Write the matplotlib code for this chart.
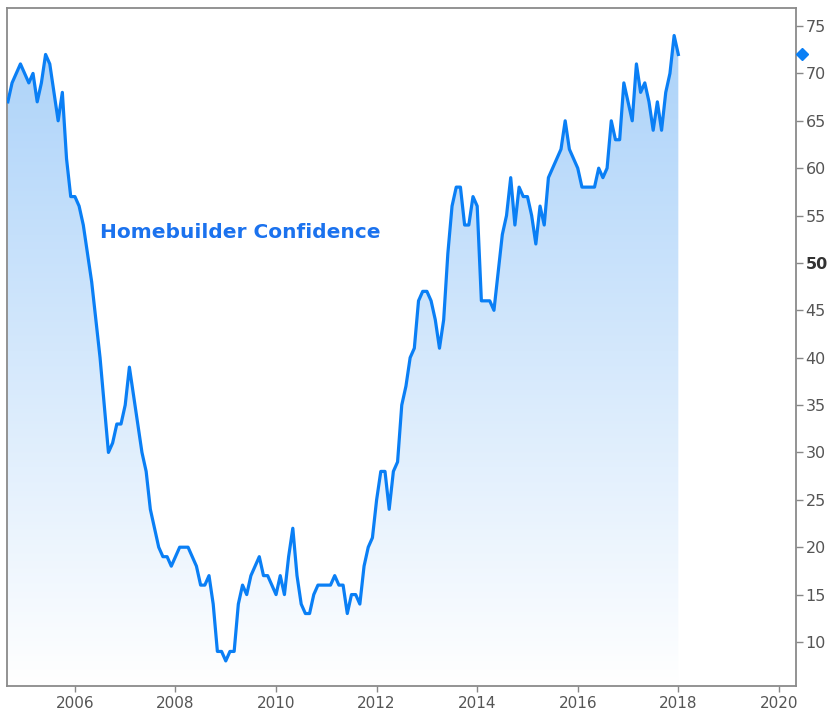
import numpy as np
import matplotlib.pyplot as plt
from matplotlib.colors import LinearSegmentedColormap
from matplotlib.path import Path
from matplotlib.patches import PathPatch
import matplotlib.transforms as mtransforms

# NAHB housing market index, monthly from Sep 2004 to Jan 2018
start_year = 2004
start_month = 9
hmi = [
    67, 69, 70, 71,                                  # 2004 (Sep-Dec)
    70, 69, 70, 67, 69, 72, 71, 68, 65, 68, 61, 57,  # 2005
    57, 56, 54, 51, 48, 44, 40, 35, 30, 31, 33, 33,  # 2006
    35, 39, 36, 33, 30, 28, 24, 22, 20, 19, 19, 18,  # 2007
    19, 20, 20, 20, 19, 18, 16, 16, 17, 14, 9, 9,    # 2008
    8, 9, 9, 14, 16, 15, 17, 18, 19, 17, 17, 16,     # 2009
    15, 17, 15, 19, 22, 17, 14, 13, 13, 15, 16, 16,  # 2010
    16, 16, 17, 16, 16, 13, 15, 15, 14, 18, 20, 21,  # 2011
    25, 28, 28, 24, 28, 29, 35, 37, 40, 41, 46, 47,  # 2012
    47, 46, 44, 41, 44, 51, 56, 58, 58, 54, 54, 57,  # 2013
    56, 46, 46, 46, 45, 49, 53, 55, 59, 54, 58, 57,  # 2014
    57, 55, 52, 56, 54, 59, 60, 61, 62, 65, 62, 61,  # 2015
    60, 58, 58, 58, 58, 60, 59, 60, 65, 63, 63, 69,  # 2016
    67, 65, 71, 68, 69, 67, 64, 67, 64, 68, 70, 74,  # 2017
    72,                                              # 2018 (Jan)
]
year_ticks = [2006, 2008, 2010, 2012, 2014, 2016, 2018, 2020]
value_ticks = [10, 15, 20, 25, 30, 35, 40, 45, 50, 55, 60, 65, 70, 75]
series_label = 'Homebuilder Confidence'

hmi = np.array(hmi, dtype=float)
t = start_year + (start_month - 1 + np.arange(len(hmi))) / 12.0

line_color = '#0a7ff5'
ymin, ymax = 5.35, 76.9
xmin, xmax = 2004.65, 2020.34

fig = plt.figure(figsize=(8.37, 7.17), dpi=100)
ax = fig.add_axes([0.0084, 0.0432, 0.9426, 0.9456])

# gradient fill under the line
cmap = LinearSegmentedColormap.from_list('fade', ['#ffffff', '#a9d1f9'])
grad = np.linspace(0, 1, 256).reshape(-1, 1)
img = ax.imshow(grad, cmap=cmap, aspect='auto', origin='lower',
                extent=[t[0], t[-1], ymin, 76], zorder=1, interpolation='bilinear')
verts = [(t[0], ymin)] + list(zip(t, hmi)) + [(t[-1], ymin)]
clip = PathPatch(Path(verts), transform=ax.transData, facecolor='none', edgecolor='none')
ax.add_patch(clip)
img.set_clip_path(clip)

ax.plot(t, hmi, color=line_color, lw=2.3, zorder=3)

# last value marker on the right axis
trans = mtransforms.blended_transform_factory(ax.transAxes, ax.transData)
ax.plot([1.008], [hmi[-1]], marker='D', color=line_color, markersize=6.5,
        transform=trans, clip_on=False, zorder=5)

ax.text(2006.5, 53.2, series_label, color='#1b72ee', fontsize=14.5,
        fontweight='bold', va='center', ha='left', zorder=4)

ax.set_xlim(xmin, xmax)
ax.set_ylim(ymin, ymax)

ax.set_xticks(year_ticks)
ax.set_xticklabels([str(y) for y in year_ticks])
ax.yaxis.tick_right()
ax.set_yticks(value_ticks)
ax.set_yticklabels([str(v) for v in value_ticks])

ax.tick_params(axis='x', length=4, width=1, color='#888888', labelcolor='#555555',
               labelsize=11, pad=3)
ax.tick_params(axis='y', length=5, width=1, color='#888888', labelcolor='#555555',
               labelsize=11.5, pad=2)
for lab in ax.get_yticklabels():
    if lab.get_text() == '50':
        lab.set_fontweight('bold')
        lab.set_color('#333333')

for side in ['left', 'top', 'right', 'bottom']:
    ax.spines[side].set_color('#8a8a8a')
    ax.spines[side].set_linewidth(1.3)

fig.savefig('out.png', dpi=100)
